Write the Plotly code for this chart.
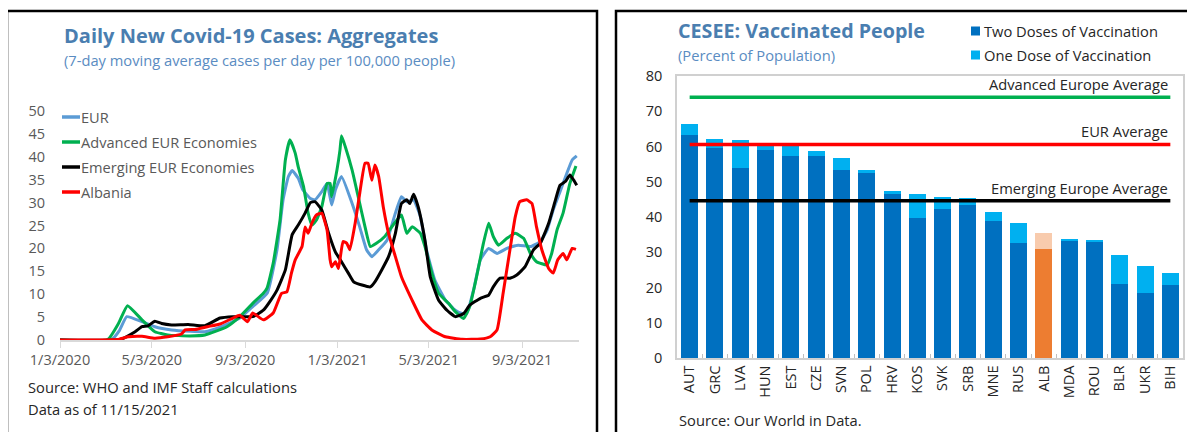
import plotly.graph_objects as go

W, H = 1195, 432
PAGE_OFFSET = 8  # default body margin of the html page

# ---------------- Left chart data: 7-day avg cases per 100,000 ----------------
eur_dates = ["2020-01-03", "2020-03-11", "2020-03-21", "2020-03-31", "2020-04-20", "2020-05-07",
             "2020-05-29", "2020-06-22", "2020-07-12", "2020-08-01", "2020-08-27", "2020-09-13",
             "2020-10-02", "2020-10-15", "2020-10-23", "2020-10-30", "2020-11-04", "2020-11-12",
             "2020-11-18", "2020-11-28", "2020-12-04", "2020-12-13", "2020-12-20", "2020-12-26",
             "2020-12-31", "2021-01-08", "2021-01-22", "2021-02-01", "2021-02-10", "2021-02-17",
             "2021-02-26", "2021-03-09", "2021-03-20", "2021-03-28", "2021-04-04", "2021-04-13",
             "2021-04-22", "2021-04-30", "2021-05-11", "2021-05-25", "2021-06-07", "2021-06-16",
             "2021-06-22", "2021-07-01", "2021-07-10", "2021-07-21", "2021-08-01", "2021-08-14",
             "2021-08-29", "2021-09-14", "2021-09-27", "2021-10-06", "2021-10-14", "2021-10-23",
             "2021-11-01", "2021-11-08", "2021-11-14"]
eur_vals = [0, 0.1, 2.0, 5.1, 4.0, 2.9,
            2.2, 1.9, 1.8, 2.8, 4.8, 7.3,
            10.2, 19.7, 30.6, 35.7, 37.0, 35.3,
            32.8, 30.9, 30.6, 32.4, 34.2, 29.5,
            32.8, 35.7, 29.8, 24.7, 19.7, 18.2,
            19.7, 21.8, 27.7, 31.3, 30.2, 30.6,
            26.9, 19.7, 13.1, 8.7, 6.5, 5.8,
            5.8, 10.9, 17.5, 20.0, 18.9, 20.0,
            20.7, 20.4, 21.5, 24.0, 28.4, 32.4,
            36.4, 39.3, 40.2]

adv_dates = ["2020-01-03", "2020-03-06", "2020-03-20", "2020-04-01", "2020-04-20", "2020-05-07",
             "2020-05-24", "2020-06-22", "2020-07-12", "2020-08-10", "2020-08-27", "2020-09-13",
             "2020-09-27", "2020-10-02", "2020-10-10", "2020-10-19", "2020-10-26", "2020-11-01",
             "2020-11-08", "2020-11-12", "2020-11-19", "2020-11-25", "2020-11-30", "2020-12-06",
             "2020-12-13", "2020-12-20", "2020-12-24", "2020-12-26", "2021-01-02", "2021-01-06",
             "2021-01-08", "2021-01-13", "2021-01-22", "2021-01-30", "2021-02-08", "2021-02-15",
             "2021-02-23", "2021-03-06", "2021-03-17", "2021-03-28", "2021-04-04", "2021-04-11",
             "2021-04-22", "2021-04-28", "2021-05-07", "2021-05-16", "2021-05-29", "2021-06-07",
             "2021-06-18", "2021-06-26", "2021-07-05", "2021-07-14", "2021-07-21", "2021-07-27",
             "2021-08-03", "2021-08-14", "2021-08-25", "2021-09-05", "2021-09-14", "2021-09-22",
             "2021-10-06", "2021-10-12", "2021-10-19", "2021-10-27", "2021-11-05", "2021-11-13"]
adv_vals = [0, 0.1, 3.6, 7.5, 4.4, 1.8,
            1.1, 0.9, 1.1, 2.9, 5.1, 8.0,
            10.2, 11.4, 16.8, 26.2, 39.3, 43.7,
            40.8, 37.8, 33.5, 27.7, 25.1, 26.2,
            29.1, 34.2, 34.2, 31.3, 37.1, 41.5,
            44.6, 42.2, 37.1, 31.3, 24.7, 20.4,
            21.1, 22.6, 25.1, 27.3, 23.3, 24.7,
            23.3, 20.4, 14.6, 10.2, 8.0, 6.2,
            4.7, 7.3, 13.8, 21.1, 25.5, 22.6,
            20.7, 22.2, 23.3, 22.2, 18.9, 17.1,
            16.4, 18.9, 24.0, 27.7, 34.2, 38.0]

emg_dates = ["2020-01-03", "2020-03-22", "2020-04-11", "2020-04-20", "2020-04-28", "2020-05-07",
             "2020-05-16", "2020-05-29", "2020-06-20", "2020-07-12", "2020-08-01", "2020-08-18",
             "2020-09-13", "2020-09-27", "2020-10-06", "2020-10-15", "2020-10-26", "2020-11-04",
             "2020-11-12", "2020-11-21", "2020-11-28", "2020-12-04", "2020-12-13", "2020-12-22",
             "2020-12-31", "2021-01-08", "2021-01-17", "2021-01-24", "2021-02-04", "2021-02-15",
             "2021-02-21", "2021-03-02", "2021-03-11", "2021-03-20", "2021-03-28", "2021-04-04",
             "2021-04-08", "2021-04-13", "2021-04-19", "2021-04-28", "2021-05-05", "2021-05-16",
             "2021-05-27", "2021-06-07", "2021-06-18", "2021-06-26", "2021-07-10", "2021-07-21",
             "2021-07-27", "2021-08-05", "2021-08-18", "2021-08-27", "2021-09-07", "2021-09-18",
             "2021-09-27", "2021-10-08", "2021-10-17", "2021-10-23", "2021-10-30", "2021-11-05",
             "2021-11-10", "2021-11-14"]
emg_vals = [0, 0.1, 1.8, 2.9, 3.1, 4.1,
            3.6, 3.3, 3.4, 3.1, 4.8, 5.1,
            5.1, 6.5, 8.5, 10.9, 15.3, 23.0,
            25.1, 27.7, 30.0, 30.2, 28.4, 23.3,
            19.2, 17.1, 14.6, 12.7, 12.0, 11.6,
            12.7, 15.3, 18.2, 23.3, 29.8, 30.6,
            29.8, 31.8, 29.1, 21.8, 13.8, 8.7,
            6.5, 5.1, 5.8, 7.6, 9.1, 9.8,
            11.6, 13.5, 13.5, 14.2, 16.0, 19.7,
            21.1, 25.5, 30.6, 33.8, 34.6, 36.0,
            34.9, 33.8]

alb_dates = ["2020-01-03", "2020-03-19", "2020-04-02", "2020-04-20", "2020-05-07", "2020-05-24",
             "2020-06-11", "2020-06-16", "2020-06-29", "2020-07-15", "2020-08-01", "2020-08-18",
             "2020-08-27", "2020-09-06", "2020-09-13", "2020-09-27", "2020-10-10", "2020-10-21",
             "2020-10-28", "2020-11-03", "2020-11-08", "2020-11-17", "2020-11-21", "2020-11-25",
             "2020-11-30", "2020-12-06", "2020-12-13", "2020-12-20", "2020-12-24", "2020-12-26",
             "2020-12-31", "2021-01-04", "2021-01-10", "2021-01-15", "2021-01-19", "2021-01-26",
             "2021-02-01", "2021-02-08", "2021-02-12", "2021-02-17", "2021-02-21", "2021-02-26",
             "2021-03-04", "2021-03-11", "2021-03-20", "2021-03-28", "2021-04-11", "2021-04-24",
             "2021-05-07", "2021-05-25", "2021-06-16", "2021-07-10", "2021-07-23", "2021-08-01",
             "2021-08-09", "2021-08-18", "2021-08-25", "2021-08-31", "2021-09-09", "2021-09-16",
             "2021-09-22", "2021-09-29", "2021-10-08", "2021-10-14", "2021-10-20", "2021-10-27",
             "2021-11-01", "2021-11-08", "2021-11-13"]
alb_vals = [0, 0.1, 0.7, 0.8, 0.4, 0.7,
            1.3, 2.2, 2.3, 2.9, 3.5, 4.8,
            5.4, 4.0, 5.9, 4.4, 5.9, 10.2,
            10.5, 14.6, 17.5, 20.4, 24.7, 23.3,
            25.5, 27.3, 27.7, 24.0, 17.5, 16.0,
            17.1, 15.6, 21.5, 21.1, 19.7, 25.5,
            32.0, 38.6, 38.6, 34.9, 38.2, 35.7,
            29.1, 23.3, 18.2, 13.8, 8.7, 4.4,
            2.2, 0.7, 0.15, 0.2, 0.7, 2.2,
            10.2, 19.7, 26.9, 30.2, 30.6, 29.8,
            24.7, 19.7, 15.6, 14.6, 17.5, 18.9,
            17.5, 20.0, 19.8]

date_ticks = ["2020-01-03", "2020-05-03", "2020-09-03", "2021-01-03", "2021-05-03", "2021-09-03"]
date_tick_labels = ["1/3/2020", "5/3/2020", "9/3/2020", "1/3/2021", "5/3/2021", "9/3/2021"]
left_series_names = ["EUR", "Advanced EUR Economies", "Emerging EUR Economies", "Albania"]

# ---------------- Right chart data: vaccinated people (% of population) ----------------
countries = ["AUT", "GRC", "LVA", "HUN", "EST", "CZE", "SVN", "POL", "HRV", "KOS",
             "SVK", "SRB", "MNE", "RUS", "ALB", "MDA", "ROU", "BLR", "UKR", "BIH"]
two_doses = [63.3, 59.7, 54.0, 58.9, 57.4, 57.2, 53.4, 52.6, 46.5, 39.8,
             42.2, 43.3, 39.0, 32.5, 30.9, 33.3, 32.8, 21.1, 18.5, 20.6]
one_dose = [3.1, 2.5, 7.8, 1.7, 2.9, 1.4, 3.3, 0.7, 0.8, 6.6,
            3.5, 2.1, 2.5, 5.9, 4.6, 0.2, 0.6, 8.0, 7.5, 3.6]
advanced_europe_avg = 74.0
eur_avg = 60.6
emerging_europe_avg = 44.6
highlight = "ALB"

# ---------------- Styling ----------------
FONT = "Open Sans"
TITLE_BLUE = "#4A7EB0"
SUB_BLUE = "#5A8CC2"
GRAY = "#595959"
DARK = "#262626"
line_colors = ["#5B9BD5", "#00B050", "#000000", "#FF0000"]
DARK_BLUE, LIGHT_BLUE = "#0070C0", "#00B0F0"
ORANGE, LIGHT_ORANGE = "#ED7D31", "#F8CBAD"


def px(x):
    return (x - PAGE_OFFSET) / W


def py(y):
    return 1 - (y - PAGE_OFFSET) / H


fig = go.Figure()

series = [(eur_dates, eur_vals), (adv_dates, adv_vals), (emg_dates, emg_vals), (alb_dates, alb_vals)]
for (d, v), name, col in zip(series, left_series_names, line_colors):
    fig.add_trace(go.Scatter(x=d, y=v, name=name, mode="lines",
                             line=dict(color=col, width=3, shape="spline", smoothing=0.4),
                             xaxis="x", yaxis="y", showlegend=False))

dark_cols = [ORANGE if c == highlight else DARK_BLUE for c in countries]
light_cols = [LIGHT_ORANGE if c == highlight else LIGHT_BLUE for c in countries]
fig.add_trace(go.Bar(x=countries, y=two_doses, name="Two Doses of Vaccination",
                     marker=dict(color=dark_cols, line=dict(width=0)),
                     xaxis="x2", yaxis="y2", showlegend=False))
fig.add_trace(go.Bar(x=countries, y=one_dose, name="One Dose of Vaccination",
                     marker=dict(color=light_cols, line=dict(width=0)),
                     xaxis="x2", yaxis="y2", showlegend=False))

avg_lines = [(advanced_europe_avg, "#00B050", "Advanced Europe Average"),
             (eur_avg, "#FF0000", "EUR Average"),
             (emerging_europe_avg, "#000000", "Emerging Europe Average")]
for val, col, label in avg_lines:
    fig.add_trace(go.Scatter(x=[countries[0], countries[-1]], y=[val, val], mode="lines",
                             line=dict(color=col, width=3.5), xaxis="x2", yaxis="y2",
                             showlegend=False, name=label))

annotations = []
for val, col, label in avg_lines:
    annotations.append(dict(x=countries[-1], y=val, xref="x2", yref="y2", text=label,
                            showarrow=False, xanchor="right", yanchor="bottom", yshift=1,
                            font=dict(family=FONT, size=14.7, color=DARK)))

annotations += [
    dict(x=px(62), y=py(35), xref="paper", yref="paper", xanchor="left", yanchor="middle",
         text="<b>Daily New Covid-19 Cases: Aggregates</b>", showarrow=False,
         font=dict(family=FONT, size=20, color=TITLE_BLUE)),
    dict(x=px(62), y=py(60), xref="paper", yref="paper", xanchor="left", yanchor="middle",
         text="(7-day moving average cases per day per 100,000 people)", showarrow=False,
         font=dict(family=FONT, size=14.7, color=SUB_BLUE)),
    dict(x=px(676), y=py(31), xref="paper", yref="paper", xanchor="left", yanchor="middle",
         text="<b>CESEE: Vaccinated People</b>", showarrow=False,
         font=dict(family=FONT, size=19.7, color=TITLE_BLUE)),
    dict(x=px(676), y=py(55), xref="paper", yref="paper", xanchor="left", yanchor="middle",
         text="(Percent of Population)", showarrow=False,
         font=dict(family=FONT, size=14.7, color=SUB_BLUE)),
    dict(x=px(26), y=py(387), xref="paper", yref="paper", xanchor="left", yanchor="middle",
         text="Source: WHO and IMF Staff calculations", showarrow=False,
         font=dict(family=FONT, size=14.7, color=DARK)),
    dict(x=px(26), y=py(409), xref="paper", yref="paper", xanchor="left", yanchor="middle",
         text="Data as of 11/15/2021", showarrow=False,
         font=dict(family=FONT, size=14.7, color=DARK)),
    dict(x=px(677), y=py(420), xref="paper", yref="paper", xanchor="left", yanchor="middle",
         text="Source: Our World in Data.", showarrow=False,
         font=dict(family=FONT, size=14.7, color=DARK)),
]

shapes = [
    dict(type="rect", xref="paper", yref="paper", x0=px(7), x1=px(597), y0=-0.2, y1=py(11),
         line=dict(color="black", width=2.5)),
    dict(type="rect", xref="paper", yref="paper", x0=px(616), x1=1.2, y0=-0.2, y1=py(11),
         line=dict(color="black", width=2.5)),
]

# left manual legend
for i, (name, col) in enumerate(zip(left_series_names, line_colors)):
    yy = 117 + 25 * i
    shapes.append(dict(type="line", xref="paper", yref="paper", x0=px(62), x1=px(80),
                       y0=py(yy), y1=py(yy), line=dict(color=col, width=3.5)))
    annotations.append(dict(x=px(79), y=py(yy), xref="paper", yref="paper", xanchor="left",
                            yanchor="middle", text=name, showarrow=False,
                            font=dict(family=FONT, size=14.6, color=GRAY)))

# right manual legend
for i, (name, col) in enumerate([("Two Doses of Vaccination", DARK_BLUE),
                                 ("One Dose of Vaccination", LIGHT_BLUE)]):
    yy = 31 + 24 * i
    shapes.append(dict(type="rect", xref="paper", yref="paper", x0=px(971), x1=px(980),
                       y0=py(yy + 4.5), y1=py(yy - 4.5), line=dict(width=0), fillcolor=col))
    annotations.append(dict(x=px(982), y=py(yy), xref="paper", yref="paper", xanchor="left",
                            yanchor="middle", text=name, showarrow=False,
                            font=dict(family=FONT, size=14.7, color=DARK)))

fig.update_layout(
    width=W, height=H, margin=dict(l=0, r=0, t=0, b=0, pad=0, autoexpand=False),
    paper_bgcolor="white", plot_bgcolor="white",
    font=dict(family=FONT, size=14, color=GRAY),
    barmode="stack", bargap=0.33,
    showlegend=False,
    annotations=annotations, shapes=shapes,
    xaxis=dict(domain=[px(60), px(579)], type="date",
               range=["2020-01-03", "2021-11-17"],
               tickvals=date_ticks, ticktext=date_tick_labels,
               ticks="outside", ticklen=6, tickcolor="#D9D9D9", tickwidth=1,
               showline=True, linecolor="#D9D9D9", linewidth=1.5,
               showgrid=False, zeroline=False, automargin=False,
               tickfont=dict(family=FONT, size=14.5, color=GRAY)),
    yaxis=dict(domain=[py(340), py(111)], range=[0, 50], dtick=5,
               showgrid=False, zeroline=False, showline=False, ticks="",
               ticklabelstandoff=14, automargin=False,
               tickfont=dict(family=FONT, size=14.5, color=GRAY)),
    xaxis2=dict(domain=[px(677), px(1183)], type="category", anchor="y2",
                range=[-0.5, len(countries) - 0.5],
                tickangle=-90, ticks="inside", tickson="boundaries", ticklen=4,
                tickcolor="#BFBFBF", showline=True, mirror=True, automargin=False,
                linecolor="#D0D0D0", linewidth=1.5, showgrid=False,
                tickfont=dict(family=FONT, size=14.5, color=DARK)),
    yaxis2=dict(domain=[py(358), py(76)], anchor="x2", range=[0, 80], dtick=10,
                showgrid=False, zeroline=False, showline=True, mirror=True,
                linecolor="#D0D0D0", linewidth=1.5, ticks="", automargin=False,
                ticklabelstandoff=10,
                tickfont=dict(family=FONT, size=14.5, color=DARK)),
)

fig.write_html("out.html")
